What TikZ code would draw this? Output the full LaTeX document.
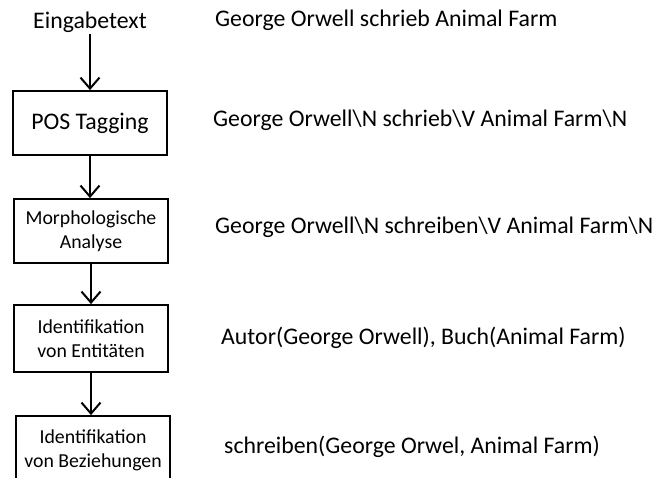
\documentclass[tikz,border=0pt]{standalone}
\usepackage{fontspec}
\setmainfont{Carlito}
\usetikzlibrary{arrows.meta}
\tikzset{
  stage/.style={draw=black,line width=1.8pt,minimum width=154pt,align=center,inner sep=2pt,font=\fontsize{19.8}{24}\selectfont},
  flow/.style={line width=2pt,-{Straight Barb[length=11pt,width=19pt]}},
  result/.style={anchor=west,inner sep=0pt,font=\fontsize{23.8}{28}\selectfont}
}
\begin{document}
\begin{tikzpicture}[x=1pt,y=-1pt]
\useasboundingbox (0,0) rectangle (659,478);
\clip (0,0) rectangle (659,478);
%stages
\node[font=\fontsize{23.8}{28}\selectfont,inner sep=1pt] (input) at (90,22) {Eingabetext};
\node[stage,minimum height=64pt,font=\fontsize{23.8}{28}\selectfont] (pos) at (90,123) {POS Tagging};
\node[stage,minimum height=64pt] (morph) at (91,231) {Morphologische\\Analyse};
\node[stage,minimum height=67pt] (ent) at (91,338.5) {Identifikation\\von Entitäten};
\node[stage,minimum height=68pt] (rel) at (93,450) {Identifikation\\von Beziehungen};
%arrows
\draw[flow] (input.south) -- (input.south |- pos.north);
\draw[flow] (pos.south) -- (pos.south |- morph.north);
\draw[flow] (morph.south) -- (morph.south |- ent.north);
\draw[flow] (ent.south) -- (ent.south |- rel.north);
%results
\node[result] (raw) at (215,20) {George Orwell schrieb Animal Farm};
\node[result] (tagged) at (213,120) {George Orwell\textbackslash N schrieb\textbackslash V Animal Farm\textbackslash N};
\node[result] (lemma) at (215,227) {George Orwell\textbackslash N schreiben\textbackslash V Animal Farm\textbackslash N};
\node[result] (entities) at (221,338) {Autor(George Orwell), Buch(Animal Farm)};
\node[result] (relation) at (224,447) {schreiben(George Orwel, Animal Farm)};
\end{tikzpicture}
\end{document}
